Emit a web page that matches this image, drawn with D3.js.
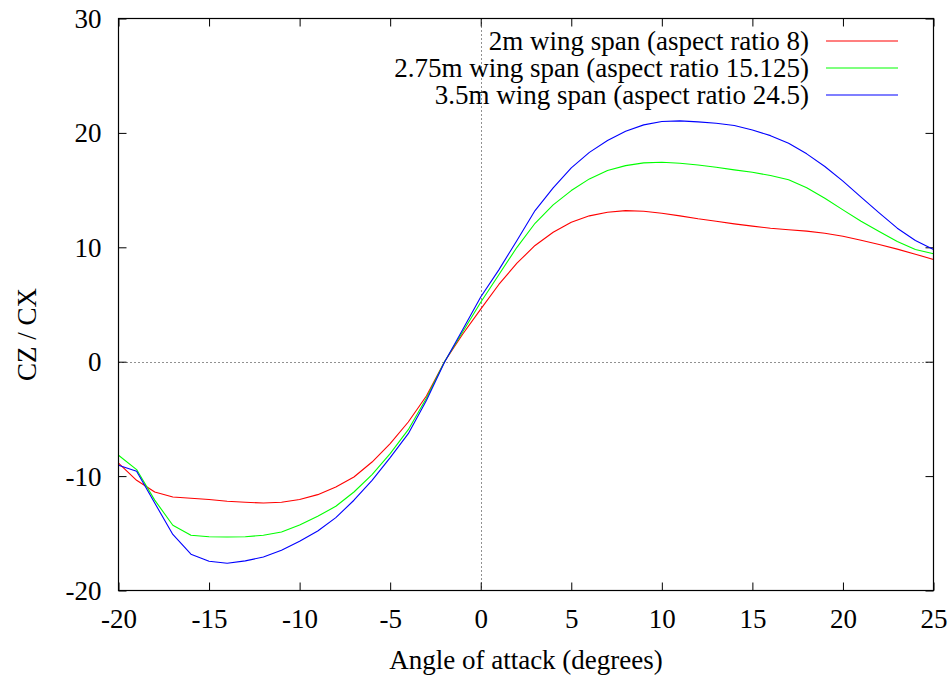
<!DOCTYPE html>
<html>
<head>
<meta charset="utf-8">
<script src="https://cdn.jsdelivr.net/npm/d3@7"></script>
<style>
  html, body { margin: 0; padding: 0; background: #fff; }
  svg { display: block; }
</style>
</head>
<body>
<svg id="chart" width="951" height="675"></svg>
<script>
// Angle of attack samples (degrees)
const angles = d3.range(-20, 26);

// CZ / CX for each wing span
const span2m = [
  -8.86, -10.37, -11.39, -11.83, -11.94, -12.05, -12.2, -12.29, -12.35, -12.29,
  -12.05, -11.62, -10.95, -10.08, -8.77, -7.16, -5.27, -3.0, 0.0, 2.4,
  4.6, 6.75, 8.61, 10.16, 11.32, 12.19, 12.75, 13.07, 13.21, 13.15,
  12.98, 12.75, 12.49, 12.28, 12.05, 11.85, 11.67, 11.53, 11.41, 11.23,
  10.97, 10.62, 10.24, 9.84, 9.4, 8.93
];
const span275m = [
  -8.18, -9.43, -12.1, -14.3, -15.17, -15.3, -15.33, -15.3, -15.17, -14.88,
  -14.27, -13.51, -12.64, -11.39, -9.87, -8.04, -5.94, -3.2, 0.0, 2.6,
  5.2, 7.6, 10.0, 12.1, 13.71, 14.96, 15.98, 16.71, 17.14, 17.38,
  17.44, 17.35, 17.2, 17.0, 16.77, 16.56, 16.27, 15.9, 15.2, 14.29,
  13.27, 12.28, 11.38, 10.51, 9.81, 9.43
];
const span35m = [
  -9.06, -9.58, -12.35, -15.1, -16.83, -17.44, -17.62, -17.41, -17.07, -16.48,
  -15.7, -14.8, -13.63, -12.11, -10.37, -8.38, -6.29, -3.4, -0.05, 2.8,
  5.65, 8.03, 10.6, 13.21, 15.2, 16.94, 18.3, 19.33, 20.14, 20.7,
  20.99, 21.05, 20.96, 20.84, 20.64, 20.26, 19.76, 19.09, 18.17, 17.06,
  15.78, 14.38, 13.01, 11.67, 10.6, 9.81
];

const seriesNames = [
  "2m wing span (aspect ratio 8)",
  "2.75m wing span (aspect ratio 15.125)",
  "3.5m wing span (aspect ratio 24.5)"
];
const seriesColors = ["#ff0000", "#00ff00", "#0000ff"];
const seriesValues = [span2m, span275m, span35m];

const xTicks = [-20, -15, -10, -5, 0, 5, 10, 15, 20, 25];
const yTicks = [-20, -10, 0, 10, 20, 30];

const xLabel = "Angle of attack (degrees)";
const yLabel = "CZ / CX";

// Plot frame
const plotLeft = 118.5, plotRight = 933.5, plotTop = 18.5, plotBottom = 590.5;
const fontFamily = "'Liberation Serif', 'DejaVu Serif', serif";
const fontSize = 27;
const tickLen = 8;
const plainNumber = d => String(d);

const svg = d3.select("#chart");
svg.append("rect").attr("width", 951).attr("height", 675).attr("fill", "#fff");

const x = d3.scaleLinear().domain([-20, 25]).range([plotLeft, plotRight]);
const y = d3.scaleLinear().domain([-20, 30]).range([plotBottom, plotTop]);

// Dotted zero axes
const zero = svg.append("g")
  .attr("stroke", "#222")
  .attr("stroke-width", 1)
  .attr("stroke-dasharray", "1,3");
zero.append("line")
  .attr("x1", plotLeft).attr("x2", plotRight)
  .attr("y1", Math.round(y(0)) + 0.5).attr("y2", Math.round(y(0)) + 0.5);
zero.append("line")
  .attr("x1", Math.round(x(0)) + 0.5).attr("x2", Math.round(x(0)) + 0.5)
  .attr("y1", plotTop).attr("y2", plotBottom);

// Axes with inward ticks on all four sides
function styleAxis(g) {
  g.attr("font-family", fontFamily).attr("font-size", fontSize);
  g.select(".domain").remove();
  g.selectAll(".tick line").attr("stroke", "#000").attr("stroke-width", 1);
  g.selectAll("text").attr("fill", "#000");
}

const xAxisBottom = svg.append("g")
  .attr("transform", `translate(0,${plotBottom})`)
  .call(d3.axisBottom(x).tickValues(xTicks).tickSizeInner(-tickLen).tickSizeOuter(0).tickFormat(plainNumber));
styleAxis(xAxisBottom);
xAxisBottom.selectAll("text").attr("y", 37).attr("dy", 0);

const xAxisTop = svg.append("g")
  .attr("transform", `translate(0,${plotTop})`)
  .call(d3.axisTop(x).tickValues(xTicks).tickSizeInner(-tickLen).tickSizeOuter(0).tickFormat(""));
styleAxis(xAxisTop);

const yAxisLeft = svg.append("g")
  .attr("transform", `translate(${plotLeft},0)`)
  .call(d3.axisLeft(y).tickValues(yTicks).tickSizeInner(-tickLen).tickSizeOuter(0).tickFormat(plainNumber));
styleAxis(yAxisLeft);
yAxisLeft.selectAll("text").attr("x", -17).attr("dy", "0.33em");

const yAxisRight = svg.append("g")
  .attr("transform", `translate(${plotRight},0)`)
  .call(d3.axisRight(y).tickValues(yTicks).tickSizeInner(-tickLen).tickSizeOuter(0).tickFormat(""));
styleAxis(yAxisRight);

// Series curves
const line = d3.line()
  .x(d => x(d[0]))
  .y(d => y(d[1]));

seriesValues.forEach((vals, i) => {
  svg.append("path")
    .datum(angles.map((a, k) => [a, vals[k]]))
    .attr("fill", "none")
    .attr("stroke", seriesColors[i])
    .attr("stroke-width", 1.1)
    .attr("stroke-linejoin", "round")
    .attr("d", line);
});

// Frame
svg.append("rect")
  .attr("x", plotLeft).attr("y", plotTop)
  .attr("width", plotRight - plotLeft).attr("height", plotBottom - plotTop)
  .attr("fill", "none").attr("stroke", "#000").attr("stroke-width", 1.2);

// Legend
const legend = svg.append("g")
  .attr("font-family", fontFamily)
  .attr("font-size", fontSize);
seriesNames.forEach((name, i) => {
  const ly = 41 + i * 27;
  legend.append("text")
    .attr("x", 809).attr("y", ly + 9)
    .attr("text-anchor", "end")
    .attr("fill", "#000")
    .text(name);
  legend.append("line")
    .attr("x1", 826).attr("x2", 898)
    .attr("y1", ly).attr("y2", ly)
    .attr("stroke", seriesColors[i]).attr("stroke-width", 1.1);
});

// Axis titles
svg.append("text")
  .attr("x", (plotLeft + plotRight) / 2).attr("y", 669)
  .attr("text-anchor", "middle")
  .attr("font-family", fontFamily)
  .attr("font-size", fontSize)
  .attr("fill", "#000")
  .text(xLabel);

svg.append("text")
  .attr("transform", `translate(36,${(plotTop + plotBottom) / 2 + 30}) rotate(-90)`)
  .attr("text-anchor", "middle")
  .attr("font-family", fontFamily)
  .attr("font-size", fontSize)
  .attr("fill", "#000")
  .text(yLabel);
</script>
</body>
</html>
